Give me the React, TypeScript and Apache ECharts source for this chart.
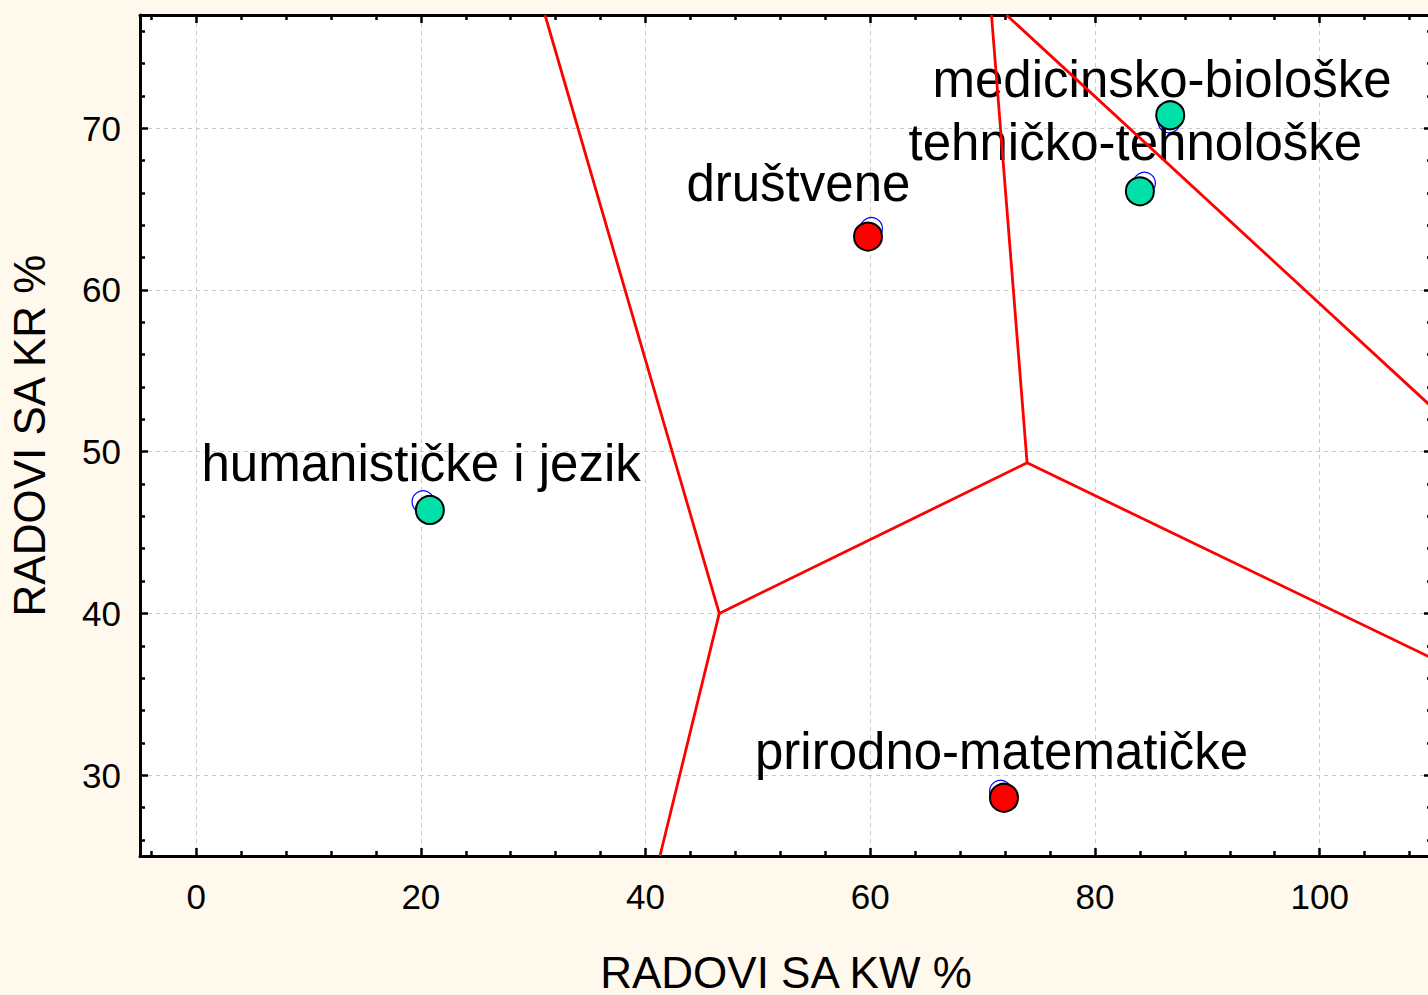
import React, { useEffect, useRef } from "react";
import * as echarts from "echarts";

// ---- data ----
const categories = [
  "humanističke i jezik",
  "društvene",
  "medicinsko-biološke",
  "tehničko-tehnološke",
  "prirodno-matematičke",
];
// original points (open blue circles)
const kwOriginal = [20.2, 60.1, 86.6, 84.4, 71.6];
const krOriginal = [46.9, 63.8, 70.4, 66.6, 29.0];
// filled points
const kwFilled = [20.8, 59.8, 86.7, 84.0, 71.9];
const krFilled = [46.4, 63.3, 70.8, 66.1, 28.6];
// group of each filled point: "g" = green, "r" = red
const groups = ["g", "r", "g", "g", "r"];

// red boundary polylines [kw, kr]
const boundaryA = [
  [31.05, 77],
  [46.56, 40.0],
  [41.28, 25],
];
const boundaryB = [
  [46.56, 40.0],
  [73.96, 49.31],
  [70.79, 77],
];
const boundaryC = [
  [73.96, 49.31],
  [110, 37.23],
];
const boundaryD = [
  [72.13, 77],
  [110, 52.75],
];

const xMajorTicks = [0, 20, 40, 60, 80, 100];
const xMinorTicks = [-4, 4, 8, 12, 16, 24, 28, 32, 36, 44, 48, 52, 56, 64, 68, 72, 76, 84, 88, 92, 96, 104, 108];
const yMajorTicks = [30, 40, 50, 60, 70];
const yMinorTicks = [26, 28, 32, 34, 36, 38, 42, 44, 46, 48, 52, 54, 56, 58, 62, 64, 66, 68, 72, 74, 76];

// label offsets (style, kept apart from data)
const labelOffsets = [
  [-2, -38],
  [-73, -45],
  [-7, -42],
  [-9, -41],
  [1, -40],
];

const FONT = "'Liberation Sans', Arial, sans-serif";
const X_MIN = -5;
const X_MAX = 110;
const Y_MIN = 25;
const Y_MAX = 77;

function makeX(position: string, major: boolean, withLabels: boolean) {
  const ticks = major ? xMajorTicks : xMinorTicks;
  const ax: any = {
    type: "value",
    position,
    min: X_MIN,
    max: X_MAX,
    axisLine: { show: major, onZero: false, lineStyle: { color: "#000", width: 3 } },
    axisTick: {
      show: true,
      inside: true,
      length: major ? 8 : 5,
      customValues: ticks,
      lineStyle: { color: "#000", width: 2.5 },
    },
    axisLabel: withLabels
      ? { show: true, customValues: ticks, margin: 23, fontSize: 35, color: "#000", fontFamily: FONT }
      : { show: false },
    splitLine: withLabels
      ? { show: true, lineStyle: { color: "#c8c8c8", type: [4, 4], width: 1 } }
      : { show: false },
    minorTick: { show: false },
    minorSplitLine: { show: false },
  };
  if (withLabels) {
    ax.name = "RADOVI SA KW %";
    ax.nameLocation = "middle";
    ax.nameGap = 94;
    ax.nameTextStyle = { fontSize: 44, color: "#000", fontFamily: FONT };
  }
  return ax;
}

function makeY(position: string, major: boolean, withLabels: boolean) {
  const ticks = major ? yMajorTicks : yMinorTicks;
  const ax: any = {
    type: "value",
    position,
    min: Y_MIN,
    max: Y_MAX,
    axisLine: { show: major, onZero: false, lineStyle: { color: "#000", width: 3 } },
    axisTick: {
      show: true,
      inside: true,
      length: major ? 8 : 5,
      customValues: ticks,
      lineStyle: { color: "#000", width: 2.5 },
    },
    axisLabel: withLabels
      ? { show: true, customValues: ticks, margin: 19, fontSize: 35, color: "#000", fontFamily: FONT }
      : { show: false },
    splitLine: withLabels
      ? { show: true, lineStyle: { color: "#c8c8c8", type: [4, 4], width: 1 } }
      : { show: false },
    minorTick: { show: false },
    minorSplitLine: { show: false },
  };
  if (withLabels) {
    ax.name = "RADOVI SA KR %";
    ax.nameLocation = "middle";
    ax.nameGap = 89;
    ax.nameTextStyle = { fontSize: 44, color: "#000", fontFamily: FONT };
  }
  return ax;
}

function boundarySeries(pts: number[][]) {
  return {
    type: "line",
    data: pts,
    showSymbol: false,
    symbol: "none",
    clip: true,
    silent: true,
    z: 5,
    lineStyle: { color: "#ff0000", width: 2.8, opacity: 1 },
  };
}

export default function App() {
  const ref = useRef<HTMLDivElement>(null);

  useEffect(() => {
    if (!ref.current) return;
    const chart = echarts.init(ref.current, null, { renderer: "svg" });

    const openData = categories.map((name, i) => ({
      name,
      value: [kwOriginal[i], krOriginal[i]],
      label: { offset: labelOffsets[i] },
    }));
    const pick = (g: string) =>
      categories
        .map((name, i) => ({ name, value: [kwFilled[i], krFilled[i]], g: groups[i] }))
        .filter((d) => d.g === g)
        .map((d) => ({ name: d.name, value: d.value }));
    const greenData = pick("g");
    const redData = pick("r");

    const option: any = {
      animation: false,
      backgroundColor: "#FFF9ED",
      textStyle: { fontFamily: FONT },
      grid: {
        left: 140,
        top: 15,
        right: 8,
        bottom: 139,
        show: true,
        backgroundColor: "#ffffff",
        borderWidth: 0,
        containLabel: false,
        outerBoundsMode: "none",
      },
      xAxis: [
        makeX("bottom", true, true),
        makeX("bottom", false, false),
        makeX("top", true, false),
        makeX("top", false, false),
      ],
      yAxis: [
        makeY("left", true, true),
        makeY("left", false, false),
        makeY("right", true, false),
        makeY("right", false, false),
      ],
      series: [
        {
          type: "scatter",
          data: openData,
          symbolSize: 22,
          silent: true,
          z: 2,
          itemStyle: { color: "rgba(255,255,255,0)", borderColor: "#0000ff", borderWidth: 1.2, opacity: 1 },
          label: {
            show: true,
            position: "inside",
            formatter: "{b}",
            fontSize: 51,
            color: "#000",
            opacity: 1,
            fontFamily: FONT,
          },
        },
        {
          type: "scatter",
          data: greenData,
          symbolSize: 28,
          silent: true,
          z: 3,
          itemStyle: { color: "#00E1A9", borderColor: "#000", borderWidth: 2, opacity: 1 },
        },
        {
          type: "scatter",
          data: redData,
          symbolSize: 28,
          silent: true,
          z: 3,
          itemStyle: { color: "#ff0000", borderColor: "#000", borderWidth: 2, opacity: 1 },
        },
        boundarySeries(boundaryA),
        boundarySeries(boundaryB),
        boundarySeries(boundaryC),
        boundarySeries(boundaryD),
      ],
    };

    chart.setOption(option);
    return () => chart.dispose();
  }, []);

  return (
    <div
      style={{
        position: "absolute",
        left: 0,
        top: 0,
        width: 1428,
        height: 995,
        overflow: "hidden",
        background: "#FFF9ED",
      }}
    >
      <div ref={ref} style={{ width: 1440, height: 995 }} />
    </div>
  );
}
